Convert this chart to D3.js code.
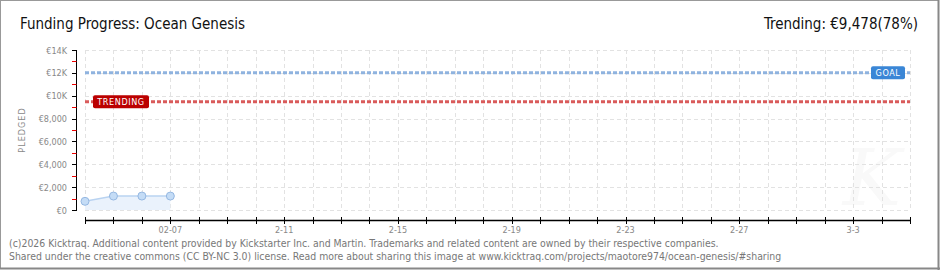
<!DOCTYPE html>
<html><head><meta charset="utf-8">
<script src="https://cdn.jsdelivr.net/npm/d3@7"></script>
<style>body{margin:0;background:#fff}svg{display:block}</style>
</head><body>
<svg id="c" width="940" height="270"></svg>
<script>
const titleText = "Funding Progress: Ocean Genesis";
const trendingText = "Trending: €9,478(78%)";
const dates = ["2026-02-04","2026-02-05","2026-02-06","2026-02-07"];
const pledged = [760, 1220, 1220, 1220];
const goal = 12000;
const trending = 9478;
const xDomain = ["2026-02-04","2026-03-05"];
const xTickDates = ["2026-02-07","2026-02-11","2026-02-15","2026-02-19","2026-02-23","2026-02-27","2026-03-03"];
const xTickLabels = ["02-07","2-11","2-15","2-19","2-23","2-27","3-3"];
const yTickValues = [0,2000,4000,6000,8000,10000,12000,14000];
const yTickLabels = ["€0","€2,000","€4,000","€6,000","€8,000","€10K","€12K","€14K"];
const yMinorValues = [1000,3000,5000,7000,9000,11000,13000];
const footer = [
 "(c)2026 Kicktraq. Additional content provided by Kickstarter Inc. and Martin. Trademarks and related content are owned by their respective companies.",
 "Shared under the creative commons (CC BY-NC 3.0) license. Read more about sharing this image at www.kicktraq.com/projects/maotore974/ocean-genesis/#sharing"
];

const pd = d3.utcParse("%Y-%m-%d");
const svg = d3.select("#c");
const x = d3.scaleUtc().domain(xDomain.map(pd)).range([85, 910]);
const y = d3.scaleLinear().domain([0, 14000]).range([210, 50]);
const F = "'DejaVu Sans Condensed','DejaVu Sans',sans-serif";

// frame
svg.append("rect").attr("x",0.5).attr("y",0.5).attr("width",938).attr("height",268)
  .attr("fill","#fff").attr("stroke","#999").attr("stroke-width",1);
svg.append("line").attr("x1",938.5).attr("x2",938.5).attr("y1",0).attr("y2",270).attr("stroke","#888").attr("stroke-width",2);
svg.append("line").attr("x1",0).attr("x2",940).attr("y1",268.5).attr("y2",268.5).attr("stroke","#888").attr("stroke-width",2);

// watermark
svg.append("text").attr("x",872).attr("y",205).attr("text-anchor","middle")
  .attr("font-family","'DejaVu Serif',serif").attr("font-style","italic").attr("font-size",78)
  .attr("fill","#f9f9f9").text("K");

// title
svg.append("text").attr("x",20).attr("y",29).attr("font-family",F).attr("font-size",15)
  .attr("fill","#111").text(titleText);
svg.append("text").attr("x",918).attr("y",29).attr("text-anchor","end").attr("font-family",F).attr("font-size",15)
  .attr("fill","#111").text(trendingText);

// grid
const allDays = d3.utcDay.range(x.domain()[0], d3.utcDay.offset(x.domain()[1],1));
const grid = svg.append("g").attr("stroke","#e2e2e2").attr("stroke-dasharray","4,3").attr("stroke-width",1);
grid.selectAll("line.v").data(allDays).join("line")
  .attr("x1",d=>Math.round(x(d))+0.5).attr("x2",d=>Math.round(x(d))+0.5).attr("y1",50).attr("y2",210);
grid.selectAll("line.h").data(yTickValues).join("line")
  .attr("x1",85).attr("x2",910).attr("y1",d=>Math.round(y(d))+0.5).attr("y2",d=>Math.round(y(d))+0.5);

// y axis
const yAxis = svg.append("g").attr("transform","translate(76,0)");
yAxis.append("line").attr("x1",0.5).attr("x2",0.5).attr("y1",50).attr("y2",211).attr("stroke","#000");
yAxis.selectAll("line.mj").data(yTickValues).join("line")
  .attr("x1",-4).attr("x2",0.5).attr("y1",d=>Math.round(y(d))+0.5).attr("y2",d=>Math.round(y(d))+0.5).attr("stroke","#000");
yAxis.selectAll("line.mn").data(yMinorValues).join("line")
  .attr("x1",-4).attr("x2",0.5).attr("y1",d=>Math.round(y(d))+0.5).attr("y2",d=>Math.round(y(d))+0.5).attr("stroke","#e00");
yAxis.selectAll("text").data(yTickValues).join("text")
  .attr("x",-9).attr("y",d=>y(d)+3.5).attr("text-anchor","end")
  .attr("font-family",F).attr("font-size",9).attr("fill","#888")
  .text((d,i)=>yTickLabels[i]);
svg.append("text").attr("transform","translate(25,130) rotate(-90)").attr("text-anchor","middle")
  .attr("font-family",F).attr("font-size",9).attr("letter-spacing",1).attr("fill","#888").text("PLEDGED");

// x axis
const xAxis = svg.append("g");
xAxis.append("line").attr("x1",85).attr("x2",911).attr("y1",220.5).attr("y2",220.5).attr("stroke","#000").attr("stroke-width",1.5);
xAxis.selectAll("line.t").data(allDays).join("line")
  .attr("x1",d=>Math.round(x(d))+0.5).attr("x2",d=>Math.round(x(d))+0.5).attr("y1",217).attr("y2",224).attr("stroke","#000");
xAxis.selectAll("text").data(xTickDates).join("text")
  .attr("x",d=>x(pd(d))).attr("y",233).attr("text-anchor","middle")
  .attr("font-family",F).attr("font-size",9).attr("fill","#888")
  .text((d,i)=>xTickLabels[i]);

// goal & trending lines
svg.append("line").attr("x1",85).attr("x2",910).attr("y1",y(goal)).attr("y2",y(goal))
  .attr("stroke","#8fb3df").attr("stroke-width",3).attr("stroke-dasharray","4,2");
svg.append("line").attr("x1",85).attr("x2",910).attr("y1",y(trending)).attr("y2",y(trending))
  .attr("stroke","#d95b5b").attr("stroke-width",3).attr("stroke-dasharray","4,2");

// labels
function tag(xl, w, yv, fill, txt){
  const g = svg.append("g");
  g.append("rect").attr("x",xl).attr("y",y(yv)-6.5).attr("width",w).attr("height",13).attr("rx",2)
    .attr("fill",fill);
  g.append("text").attr("x",xl+w/2).attr("y",y(yv)+3.5).attr("text-anchor","middle")
    .attr("font-family",F).attr("font-size",9)
    .attr("letter-spacing",0.6).attr("fill","#fff").text(txt);
}
tag(93, 56, trending, "#bb0000", "TRENDING");
tag(871, 34, goal, "#3a86d6", "GOAL");

// data
const pts = dates.map((d,i)=>({d:pd(d), v:pledged[i]}));
svg.append("path").datum(pts)
  .attr("d", d3.area().x(p=>x(p.d)).y0(y(0)).y1(p=>y(p.v)))
  .attr("fill","#eaf2fc");
svg.append("path").datum(pts)
  .attr("d", d3.line().x(p=>x(p.d)).y(p=>y(p.v)))
  .attr("fill","none").attr("stroke","#b9d3f1").attr("stroke-width",1.5);
svg.selectAll("circle.p").data(pts).join("circle")
  .attr("cx",p=>x(p.d)).attr("cy",p=>y(p.v)).attr("r",4)
  .attr("fill","#c4dcf6").attr("stroke","#95b8e2").attr("stroke-width",1);

// footer
svg.selectAll("text.f").data(footer).join("text")
  .attr("x",9).attr("y",(d,i)=>247+i*12.5)
  .attr("font-family","'Liberation Sans Narrow','DejaVu Sans Condensed',sans-serif").attr("font-size",10.4)
  .attr("fill","#777").text(d=>d);
</script>
</body></html>
